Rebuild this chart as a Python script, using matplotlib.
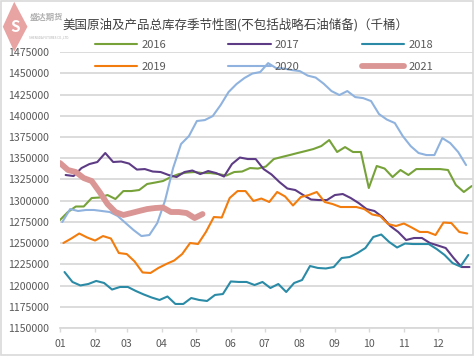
import matplotlib
matplotlib.use('Agg')
import matplotlib.pyplot as plt
import numpy as np
import pandas as pd
from matplotlib.patches import Polygon, Rectangle
from matplotlib.ticker import FuncFormatter

plt.rcParams['font.family'] = ['Noto Sans CJK SC', 'DejaVu Sans']

# 美国原油及产品总库存（千桶），周度
years = ['2016', '2017', '2018', '2019', '2020', '2021']
first_weeks = ['2016-01-01', '2017-01-06', '2018-01-05',
               '2019-01-04', '2020-01-03', '2021-01-01']

stock_2016 = [1277200, 1286600, 1293100, 1293100, 1303100, 1303700, 1306600, 1301900,
              1311300, 1311300, 1312500, 1319600, 1321300, 1323100, 1327800, 1331300,
              1333100, 1333700, 1332500, 1332500, 1331300, 1329600, 1333700, 1334300,
              1338400, 1337800, 1340200, 1349000, 1351400, 1353700, 1356100, 1358400,
              1360800, 1364300, 1371400, 1357300, 1363100, 1357300, 1357300, 1314900,
              1340800, 1337800, 1327800, 1336100, 1330200, 1337200, 1337200, 1337200,
              1337200, 1336100, 1318400, 1310200, 1317200]
stock_2017 = [1330200, 1329000, 1338400, 1343100, 1345500, 1356100, 1345500, 1346100,
              1343700, 1336600, 1337200, 1334300, 1333700, 1330200, 1327800, 1333700,
              1335500, 1331300, 1334900, 1332500, 1328400, 1343100, 1350800, 1349000,
              1349000, 1337200, 1330800, 1321900, 1314300, 1312500, 1306600, 1301300,
              1300700, 1300700, 1306600, 1307800, 1303100, 1297200, 1290100, 1287800,
              1280700, 1270100, 1263100, 1253600, 1256000, 1256000, 1250100, 1247200,
              1244200, 1232400, 1221800, 1221800]
stock_2018 = [1215900, 1204200, 1200100, 1201800, 1205400, 1203000, 1195300, 1198300,
              1198300, 1193600, 1189500, 1185900, 1183000, 1187100, 1178300, 1178300,
              1185300, 1183000, 1181800, 1188900, 1190000, 1204800, 1204200, 1204200,
              1200600, 1204200, 1197100, 1201800, 1192400, 1203000, 1206500, 1223000,
              1220700, 1220100, 1221800, 1232400, 1233600, 1238300, 1244200, 1257200,
              1260100, 1251300, 1244800, 1249500, 1248900, 1248900, 1248900, 1243000,
              1236000, 1226500, 1222400, 1236000]
stock_2019 = [1250100, 1255400, 1261300, 1256600, 1253000, 1258300, 1255400, 1238300,
              1237100, 1228300, 1215400, 1214800, 1220700, 1225400, 1229500, 1237100,
              1250100, 1248900, 1263100, 1280700, 1280100, 1303100, 1311300, 1311300,
              1299600, 1302500, 1298400, 1310200, 1304900, 1294300, 1304300, 1306600,
              1310200, 1298400, 1296000, 1292500, 1292500, 1292500, 1290100, 1283700,
              1281900, 1272500, 1270100, 1273100, 1268300, 1263100, 1263100, 1259500,
              1274200, 1273600, 1263100, 1261300]
stock_2020 = [1274800, 1290100, 1287800, 1289000, 1289000, 1287800, 1286600, 1281900,
              1273600, 1265400, 1258300, 1259500, 1273600, 1300700, 1338400, 1366700,
              1376100, 1393800, 1394900, 1399600, 1412600, 1427900, 1437300, 1444400,
              1449700, 1451500, 1462000, 1456200, 1455600, 1453800, 1452600, 1447300,
              1445000, 1437900, 1429100, 1424400, 1429100, 1422000, 1420800, 1417300,
              1402000, 1395500, 1391400, 1376100, 1364300, 1356100, 1353700, 1353700,
              1373700, 1367800, 1357300, 1341900]
stock_2021 = [1344300, 1336100, 1333700, 1326600, 1323100, 1310200, 1296000, 1286600,
              1283100, 1285400, 1287800, 1290100, 1291300, 1291900, 1286600, 1286600,
              1285400, 1279500, 1284200]

series = [stock_2016, stock_2017, stock_2018, stock_2019, stock_2020, stock_2021]
colors = ['#77a23a', '#5e3c85', '#2b8ba6', '#f27c0e', '#8fb3de', '#da9694']
widths = [1.5, 1.5, 1.5, 1.5, 1.5, 4.2]

month_labels = ['01', '02', '03', '04', '05', '06', '07', '08', '09', '10', '11', '12']
month_starts = pd.date_range('2019-01-01', periods=12, freq='MS').dayofyear - 1

fig = plt.figure(figsize=(4.74, 3.56), dpi=100)
ax = fig.add_axes([0.1266, 0.0787, 0.871, 0.775])

lines = {}
for year, start, values, color, lw in zip(years, first_weeks, series, colors, widths):
    days = pd.date_range(start, periods=len(values), freq='7D').dayofyear - 1
    ln, = ax.plot(days, values, color=color, lw=lw, solid_capstyle='round',
                  solid_joinstyle='round', zorder=3 if year != '2021' else 4)
    lines[year] = ln

ax.set_xlim(0, 365)
ax.set_ylim(1150000, 1475000)
ax.set_yticks(np.arange(1150000, 1475001, 25000))
ax.yaxis.set_major_formatter(FuncFormatter(lambda v, p: f'{int(v)}'))
ax.set_xticks(month_starts)
ax.set_xticklabels(month_labels)

ax.grid(axis='y', color='#d9d9d9', lw=1.3, zorder=0)
for side in ['top', 'right', 'left']:
    ax.spines[side].set_visible(False)
ax.spines['bottom'].set_color('#d9d9d9')
ax.spines['bottom'].set_linewidth(1.3)
ax.tick_params(axis='y', length=0, pad=8, labelsize=7.6, labelcolor='#595959')
ax.tick_params(axis='x', length=3, width=1, color='#d9d9d9', pad=5,
               labelsize=7.6, labelcolor='#595959')

order = ['2016', '2019', '2017', '2020', '2018', '2021']
leg = fig.legend([lines[y] for y in order], order, ncol=3, loc='center',
                 bbox_to_anchor=(0.557, 0.842), frameon=False, fontsize=8,
                 handlelength=3.8, columnspacing=5.6, labelspacing=1.1,
                 handletextpad=0.4)
for t in leg.get_texts():
    t.set_color('#595959')

fig.text(62 / 474, 1 - 25 / 356, '美国原油及产品总库存季节性图(不包括战略石油储备)（千桶）',
         ha='left', va='center', fontsize=9, color='#404040')

# logo
logo = Polygon([[0.006, 0.925], [0.03, 0.995], [0.058, 0.925], [0.03, 0.855]],
               closed=True, transform=fig.transFigure, facecolor='#e8a3a3',
               edgecolor='none', zorder=0)
fig.patches.append(logo)
fig.text(0.032, 0.925, 'S', ha='center', va='center', fontsize=11, color='white',
         fontweight='bold')
fig.text(0.062, 0.95, '盛达期货', ha='left', va='center', fontsize=6,
         color='#b0b0b0', fontweight='bold')
fig.text(0.062, 0.895, 'SHENGDA FUTURES CO.,LTD.', ha='left', va='center',
         fontsize=2.2, color='#b0b0b0')

fig.patches.append(Rectangle((0.002, 0.003), 0.995, 0.994, transform=fig.transFigure,
                             fill=False, edgecolor='#d9d9d9', lw=1.2))

fig.savefig('out.png', dpi=100)
